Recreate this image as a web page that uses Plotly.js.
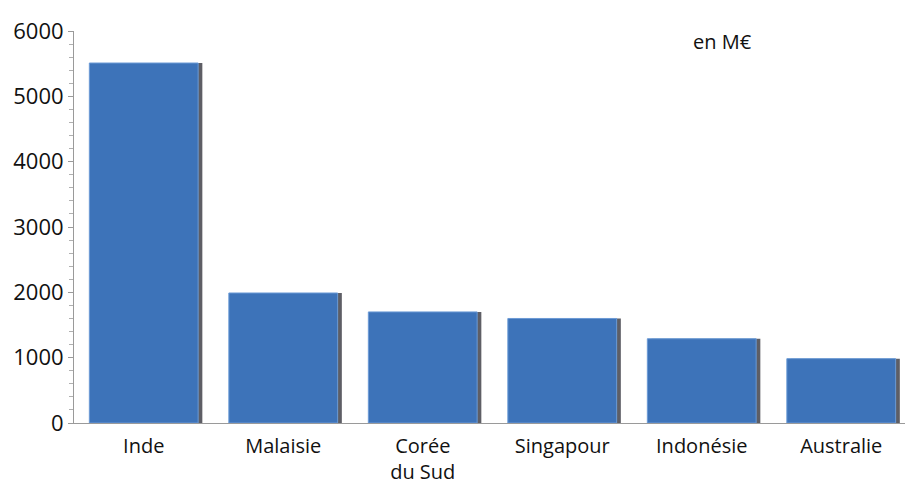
<!DOCTYPE html>
<html>
<head>
<meta charset="utf-8">
<script src="https://cdn.plot.ly/plotly-3.0.1.min.js"></script>
<style>html,body{margin:0;padding:0;background:#fff;}#chart{width:905px;height:484px;}</style>
</head>
<body>
<div id="chart"></div>
<script>
const categories = ["Inde", "Malaisie", "Corée<br>du Sud", "Singapour", "Indonésie", "Australie"];
const values = [5510, 1990, 1700, 1600, 1290, 985];
const yTickVals = [0, 1000, 2000, 3000, 4000, 5000, 6000];
const yTickText = ["0", "1000", "2000", "3000", "4000", "5000", "6000"];
const unitLabel = "en M€";

const barWidth = 0.78;
const shadow = {
  type: "bar",
  x: categories,
  y: values,
  width: barWidth,
  offset: -barWidth / 2 + 0.03,
  marker: {color: "rgba(40,40,50,0.75)", line: {width: 0}},
  hoverinfo: "skip",
  showlegend: false
};
const bars = {
  type: "bar",
  x: categories,
  y: values,
  width: barWidth,
  offset: -barWidth / 2,
  marker: {color: "#3d73b9", line: {color: "#6c9bd6", width: 1}},
  showlegend: false
};

const layout = {
  width: 905,
  height: 484,
  margin: {l: 74, r: 0, t: 31, b: 61},
  paper_bgcolor: "#fff",
  plot_bgcolor: "#fff",
  barmode: "overlay",
  font: {family: "Open Sans, sans-serif", color: "#111", size: 20},
  xaxis: {
    type: "category",
    range: [-0.5, 5.457],
    showline: true,
    linecolor: "#9a9a9a",
    linewidth: 1,
    ticks: "",
    showgrid: false,
    zeroline: false,
    tickfont: {size: 20, color: "#111"},
    ticklabelstandoff: 5
  },
  yaxis: {
    range: [0, 6000],
    tickvals: yTickVals,
    ticktext: yTickText,
    showline: true,
    linecolor: "#9a9a9a",
    linewidth: 1,
    ticks: "outside",
    ticklen: 5,
    tickcolor: "#9a9a9a",
    showgrid: false,
    zeroline: false,
    tickfont: {size: 22, color: "#111"},
    minor: {dtick: 200, ticks: "outside", ticklen: 4, tickcolor: "#b0b0b0", showgrid: false}
  },
  annotations: [{
    text: unitLabel,
    xref: "paper", yref: "paper",
    x: 0.78, y: 0.972,
    xanchor: "center", yanchor: "middle",
    showarrow: false,
    font: {size: 20, color: "#111"}
  }]
};

Plotly.newPlot("chart", [shadow, bars], layout, {displayModeBar: false, staticPlot: true});
</script>
</body>
</html>
